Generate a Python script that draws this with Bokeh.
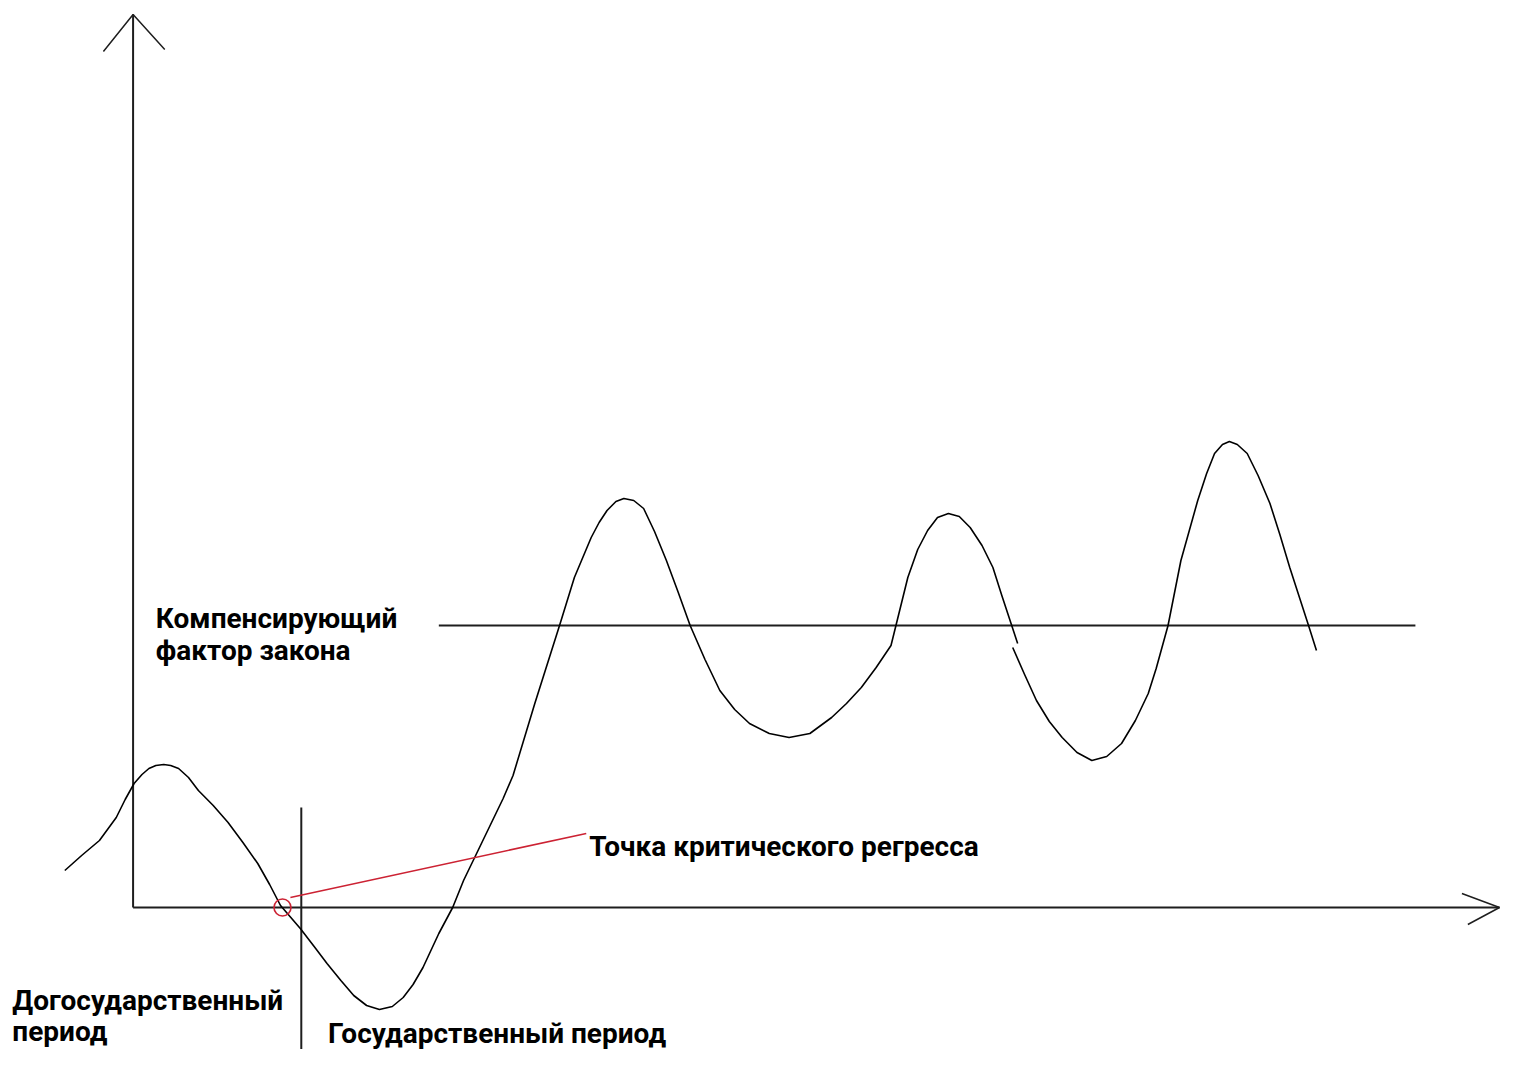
from bokeh.plotting import figure
from bokeh.models import Range1d
from bokeh.embed import file_html
from bokeh.resources import INLINE
from bokeh.core.properties import value

# ---- data (origin = intersection of the two axes, 1 unit ~ 1 px) ----
curve_x = [-69, -52, -34, -17, -8, 1, 9, 16, 23, 31, 38, 46, 56, 66, 81, 96, 111, 126, 138, 149,
           169, 183, 196, 210, 223, 236, 249, 262, 273,
           283, 293, 309, 323, 334, 354, 374, 384, 406, 431, 446, 463, 471, 479, 488, 496,
           506, 516, 527, 539, 551, 563, 578, 593, 608, 623, 643, 663, 684, 706, 721, 736,
           751, 766, 771, 783, 793, 803, 813, 824, 835, 846, 858, 869, 878, 888, 894]
curve_y = [37, 52, 67, 90, 108, 124, 133, 139, 142, 143, 142, 139, 130, 117, 102, 85, 65, 44, 23, 2,
           -21, -39, -56, -73, -88, -98, -102, -99, -90,
           -77, -60, -26, 0, 27, 68, 109, 132, 204, 282, 330, 370, 385, 397, 406, 409,
           407, 399, 376, 347, 315, 282, 248, 217, 198, 184, 174, 170, 174, 190, 204, 220,
           240, 262, 282, 330, 358, 377, 390, 394, 391, 380, 362, 340, 312, 282, 264]
curve2_x = [889, 901, 913, 926, 939, 954, 969, 984, 999, 1013, 1026, 1034, 1046, 1059, 1076,
            1085, 1093, 1101, 1108, 1116, 1126, 1137, 1149, 1159, 1169, 1188, 1196]
curve2_y = [260, 233, 207, 186, 170, 155, 147, 151, 164, 187, 214, 239, 282, 347, 407,
            434, 454, 463, 466, 463, 454, 432, 404, 373, 340, 282, 257]

law_level = 282          # "Компенсирующий фактор закона"
law_x = [309, 1296]
state_start = 170        # start of the state period
state_y = [100, -170]
regress_point = (151, 0)
callout_x = [159, 458]
callout_y = [10, 74]

yaxis_x = [0, 0]
yaxis_y = [0, 893]
yhead_x = [-30, 0, 32]
yhead_y = [856, 893, 858]
xaxis_x = [0, 1381]
xaxis_y = [0, 0]
xhead_x = [1343, 1381, 1349]
xhead_y = [14, 0, -17]

labels = ["Компенсирующий", "фактор закона", "Точка критического регресса",
          "Догосударственный", "период", "Государственный период"]
label_x = [23, 23, 461, -122, -122, 197]
label_y = [289, 257, 61, -93, -124, -126]

# ---- figure ----
p = figure(width=1500, height=1049, output_backend="svg", toolbar_location=None,
           x_range=Range1d(-134, 1382), y_range=Range1d(-142, 907),
           min_border=0, outline_line_color=None, background_fill_color="white",
           border_fill_color="white")
p.axis.visible = False
p.grid.visible = False

axis_color = "#1e1e1e"
p.line(yaxis_x, yaxis_y, line_color=axis_color, line_width=2)
p.line(xaxis_x, xaxis_y, line_color=axis_color, line_width=2)
p.line(yhead_x, yhead_y, line_color=axis_color, line_width=1.5)
p.line(xhead_x, xhead_y, line_color=axis_color, line_width=1.5)

p.line(law_x, [law_level, law_level], line_color=axis_color, line_width=2)
p.line([state_start, state_start], state_y, line_color=axis_color, line_width=2)

p.line(curve_x, curve_y, line_color="black", line_width=1.6, line_join="round")
p.line(curve2_x, curve2_y, line_color="black", line_width=1.6, line_join="round")

p.line(callout_x, callout_y, line_color="#cc2233", line_width=1.6)
p.scatter([regress_point[0]], [regress_point[1]], marker="circle", size=17,
          fill_color=None, line_color="#cc2233", line_width=1.6)

p.text(label_x, label_y, text=labels, text_font=value("Roboto"),
       text_font_style="bold", text_font_size="28px", text_color="black",
       text_align="left", text_baseline="alphabetic")

open("out.html", "w").write(file_html(p, INLINE))
